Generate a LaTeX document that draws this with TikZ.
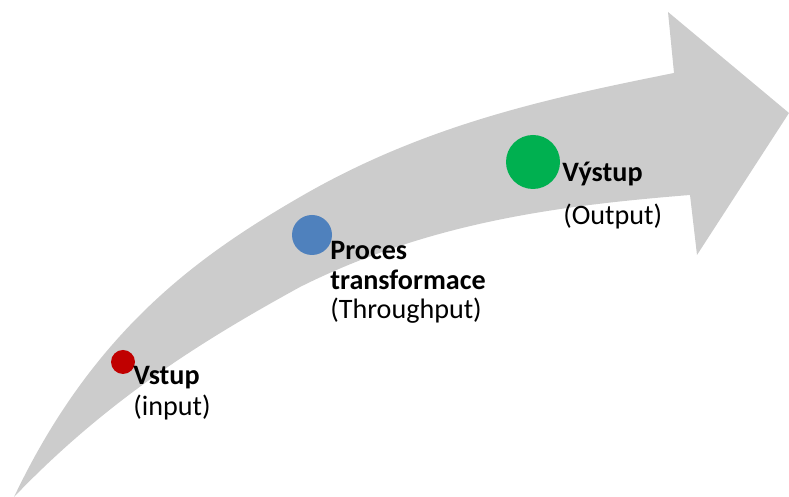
\documentclass[tikz,border=0pt]{standalone}
\usepackage{fontspec}
\setmainfont{Carlito}
\definecolor{sediva}{RGB}{204,204,204}
\definecolor{cervena}{RGB}{192,0,0}
\definecolor{modra}{RGB}{79,129,189}
\definecolor{zelena}{RGB}{0,176,80}
\begin{document}
\begin{tikzpicture}[
    every node/.style={font=\fontsize{16}{17}\selectfont}
  ]

  \tikzset{
    bod/.style={circle, inner sep=0pt},
    popis/.style={anchor=base west, inner sep=0pt},
    tucne/.style={popis, font=\fontsize{16}{17}\selectfont\bfseries}
  }

  \useasboundingbox (0,0) rectangle (15.78,9.94);

  % Sipka
  \fill[sediva] (0.28,0) .. controls (1.88,3.36) and (4.0,4.84) .. (6,6)
    .. controls (8.5,7.45) and (10.98,7.98) .. (13.48,8.48)
    -- (13.36,9.7) -- (15.78,7.68) -- (13.94,4.84) -- (13.8,6.04)
    .. controls (11.2,5.83) and (8.6,5.5) .. (6,4.2)
    .. controls (4.1,3.155) and (2.18,1.98) .. (0.28,0) -- cycle;

  % Vstup
  \node[bod, fill=cervena, minimum size=4.8mm] (vstup) at (2.46,2.7) {};
  \node[tucne] (vstupA) at (2.66,2.24) {Vstup};
  \node[popis] (vstupB) at (2.66,1.62) {(input)};

  % Proces
  \node[bod, fill=modra, minimum size=8mm] (proces) at (6.24,5.24) {};
  \node[tucne] (procesA) at (6.6,4.74) {Proces};
  \node[tucne] (procesB) at (6.6,4.14) {transformace};
  \node[popis] (procesC) at (6.6,3.56) {(Throughput)};

  % Vystup
  \node[bod, fill=zelena, minimum size=10.8mm] (vystup) at (10.66,6.7) {};
  \node[tucne] (vystupA) at (11.24,6.3) {Výstup};
  \node[popis] (vystupB) at (11.26,5.44) {(Output)};

\end{tikzpicture}
\end{document}
